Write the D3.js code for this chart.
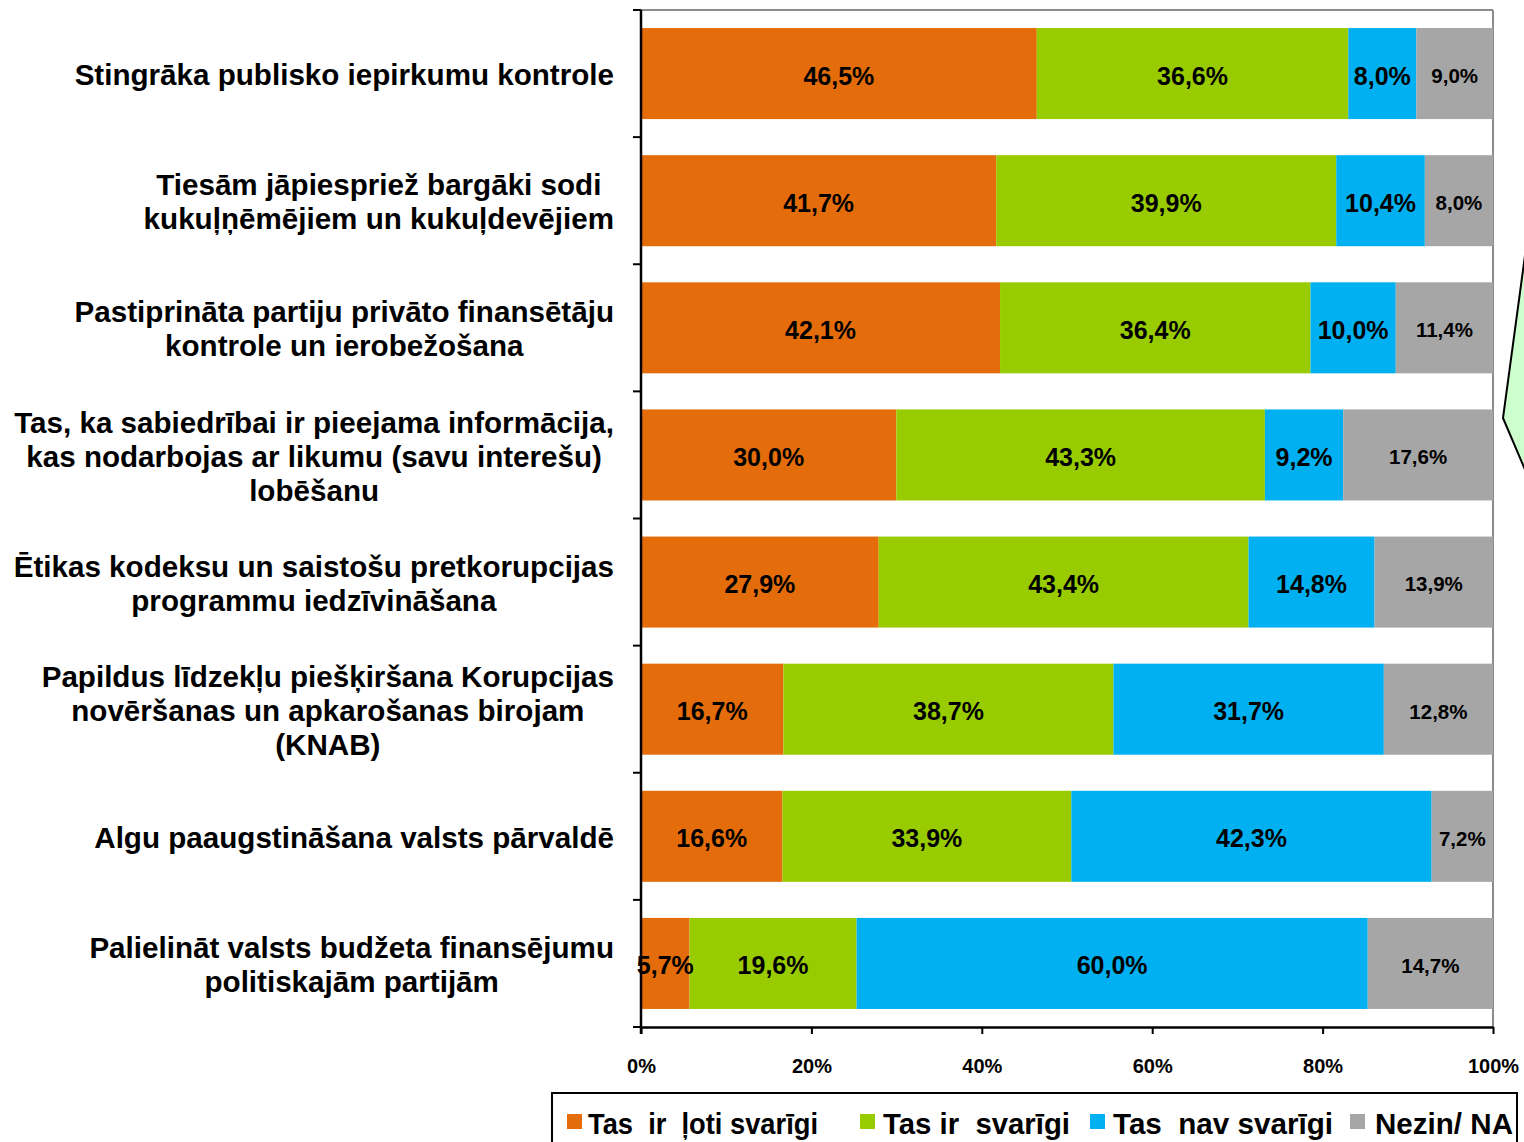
<!DOCTYPE html>
<html><head><meta charset="utf-8">
<script src="https://cdn.jsdelivr.net/npm/d3@7/dist/d3.min.js"></script>
<style>body{margin:0;background:#fff}svg{display:block}text{font-family:"Liberation Sans",Arial,sans-serif;font-weight:bold;fill:#000}</style>
</head><body><svg id="chart" width="1524" height="1142"></svg>
<script>
const categories = [
  ["Stingrāka publisko iepirkumu kontrole"],
  ["Tiesām jāpiespriež bargāki sodi", "kukuļņēmējiem un kukuļdevējiem"],
  ["Pastiprināta partiju privāto finansētāju", "kontrole un ierobežošana"],
  ["Tas, ka sabiedrībai ir pieejama informācija,", "kas nodarbojas ar likumu (savu interešu)", "lobēšanu"],
  ["Ētikas kodeksu un saistošu pretkorupcijas", "programmu iedzīvināšana"],
  ["Papildus līdzekļu piešķiršana Korupcijas", "novēršanas un apkarošanas birojam", "(KNAB)"],
  ["Algu paaugstināšana valsts pārvaldē"],
  ["Palielināt valsts budžeta finansējumu", "politiskajām partijām"]
];
const seriesNames = ["Tas  ir  ļoti svarīgi", "Tas ir  svarīgi", "Tas  nav svarīgi", "Nezin/ NA"];
const veryImportant = [46.5, 41.7, 42.1, 30.0, 27.9, 16.7, 16.6, 5.7];
const important     = [36.6, 39.9, 36.4, 43.3, 43.4, 38.7, 33.9, 19.6];
const notImportant  = [8.0, 10.4, 10.0, 9.2, 14.8, 31.7, 42.3, 60.0];
const dontKnow      = [9.0, 8.0, 11.4, 17.6, 13.9, 12.8, 7.2, 14.7];
const tickValues = [0, 0.2, 0.4, 0.6, 0.8, 1.0];
const tickLabels = ["0%", "20%", "40%", "60%", "80%", "100%"];
const colors = ["#E46C0A", "#99CC00", "#00B0F0", "#A6A6A6"];

const series = [veryImportant, important, notImportant, dontKnow];
const svg = d3.select("#chart");
const L = 641, R = 1493, T = 10, B = 1027;
const catKeys = categories.map((c, i) => "c" + i);
const pad = 0.284;
const y = d3.scaleBand().domain(catKeys).range([T, B]).paddingInner(pad).paddingOuter(pad / 2);
const x = d3.scaleLinear().domain([0, 1]).range([L, R]);
const fmt = v => v.toFixed(1).replace(".", ",") + "%";

const rows = catKeys.map((k, i) => {
  const vals = series.map(s => s[i]);
  const total = d3.sum(vals);
  let acc = 0;
  return vals.map((v, j) => { const s0 = acc / total; acc += v; return {k, j, v, s0, s1: acc / total}; });
});

svg.append("line").attr("x1", L).attr("x2", R).attr("y1", T).attr("y2", T).attr("stroke", "#8c8c8c").attr("stroke-width", 2);
svg.append("line").attr("x1", R).attr("x2", R).attr("y1", T).attr("y2", B).attr("stroke", "#8c8c8c").attr("stroke-width", 2);

const g = svg.append("g");
rows.forEach(r => {
  g.selectAll(null).data(r).enter().append("rect")
    .attr("x", d => x(d.s0)).attr("width", d => x(d.s1) - x(d.s0))
    .attr("y", d => y(d.k)).attr("height", y.bandwidth())
    .attr("fill", d => colors[d.j]);
  g.selectAll(null).data(r).enter().append("text")
    .attr("x", d => (x(d.s0) + x(d.s1)) / 2)
    .attr("y", d => y(d.k) + y.bandwidth() / 2 + 2)
    .attr("dy", "0.36em").attr("text-anchor", "middle")
    .attr("font-size", d => d.j === 3 ? 20.5 : 25)
    .text(d => fmt(d.v));
});

const xAxis = d3.axisBottom(x).tickValues(tickValues).tickFormat((d, i) => tickLabels[i]).tickSize(7).tickSizeOuter(0);
const xg = svg.append("g").attr("transform", `translate(0,${B})`).call(xAxis);
xg.select(".domain").attr("stroke", "#000").attr("stroke-width", 2.5);
xg.selectAll(".tick line").attr("stroke", "#000").attr("stroke-width", 2);
xg.selectAll(".tick text").attr("font-size", 20).attr("y", 39).attr("dy", "0.36em")
  .style("font-family", '"Liberation Sans",Arial,sans-serif').style("font-weight", "bold");

svg.append("line").attr("x1", L).attr("x2", L).attr("y1", T).attr("y2", B + 7).attr("stroke", "#000").attr("stroke-width", 2.5);
const step = y.step();
d3.range(catKeys.length + 1).forEach(i => {
  const yy = y(catKeys[0]) - step * pad / 2 + i * step;
  svg.append("line").attr("x1", L - 8).attr("x2", L).attr("y1", yy).attr("y2", yy).attr("stroke", "#000").attr("stroke-width", 2);
});

const lineH = 34;
categories.forEach((lines, i) => {
  const cy = y(catKeys[i]) + y.bandwidth() / 2;
  const tg = svg.append("g");
  const ts = lines.map((ln, li) => tg.append("text")
    .attr("font-size", 29.6).attr("text-anchor", "middle")
    .attr("y", cy + (li - (lines.length - 1) / 2) * lineH + 1).attr("dy", "0.36em")
    .text(ln));
  const w = d3.max(ts, t => t.node().getComputedTextLength());
  ts.forEach(t => t.attr("x", 614 - w / 2));
});

svg.append("path").attr("d", d3.line()([[1526, 248], [1503, 418], [1526, 472]]))
  .attr("fill", "#CCFFCC").attr("stroke", "#000").attr("stroke-width", 2);

const lg = svg.append("g");
lg.append("rect").attr("x", 552).attr("y", 1093).attr("width", 965).attr("height", 60)
  .attr("fill", "#fff").attr("stroke", "#000").attr("stroke-width", 2);
const legendPos = [[567, 588, 230], [860, 883, 187], [1090, 1113, 220], [1350, 1375, 138]];
seriesNames.forEach((name, i) => {
  const [sx, tx, tw] = legendPos[i];
  lg.append("rect").attr("x", sx).attr("y", 1114).attr("width", 15).attr("height", 15).attr("fill", colors[i]);
  lg.append("text").attr("x", tx).attr("y", 1134).attr("font-size", 30)
    .style("white-space", "pre")
    .attr("textLength", tw).attr("lengthAdjust", "spacingAndGlyphs").text(name);
});
</script></body></html>
